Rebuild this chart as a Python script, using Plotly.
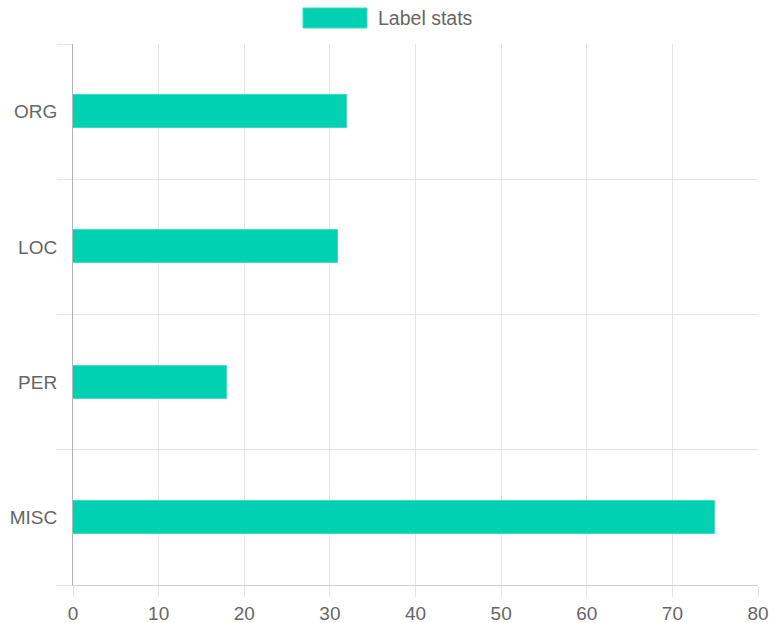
import plotly.graph_objects as go

categories = ["ORG", "LOC", "PER", "MISC"]
values = [32, 31, 18, 75]
series_name = "Label stats"
x_ticks = [0, 10, 20, 30, 40, 50, 60, 70, 80]

BAR = "#00d1b2"
TXT = "#666666"
GRID = "#e5e5e5"
FONT = "Liberation Sans, Helvetica Neue, Arial, sans-serif"

fig = go.Figure()
fig.add_trace(go.Bar(
    y=categories, x=values, orientation="h", name=series_name,
    marker=dict(color=BAR, line=dict(color="#3fdcc4", width=1)),
    width=0.245, showlegend=False,
))

fig.update_layout(
    width=769, height=623,
    margin=dict(l=73, r=11, t=44, b=38, autoexpand=False),
    paper_bgcolor="white", plot_bgcolor="white",
    font=dict(family=FONT, size=19, color=TXT),
    bargap=0,
    xaxis=dict(
        range=[0, 80], tickvals=x_ticks, showgrid=True, gridcolor=GRID, gridwidth=1,
        zeroline=False, showline=True, linecolor="#d0d0d0", linewidth=1,
        ticks="outside", ticklen=11, tickcolor=GRID, automargin=False,
        tickfont=dict(size=19, color=TXT),
    ),
    yaxis=dict(
        type="category", categoryorder="array", categoryarray=categories[::-1],
        range=[-0.5, 3.5], tickson="boundaries", showgrid=True, gridcolor=GRID,
        showline=True, linecolor="#b5b5b5", linewidth=1, automargin=False,
        ticks="outside", ticklen=15, tickcolor=GRID, ticklabelstandoff=11,
        tickfont=dict(size=19, color=TXT),
    ),
    shapes=[dict(type="rect", xref="paper", yref="paper",
                 x0=(303 - 73) / 685, x1=(367 - 73) / 685,
                 y0=(623 - 38 - 28) / 541, y1=(623 - 38 - 8) / 541,
                 fillcolor=BAR, line=dict(color="#3fdcc4", width=1))],
    annotations=[dict(text=series_name, xref="paper", yref="paper",
                      x=(376 - 73) / 685, y=(623 - 38 - 18) / 541,
                      xanchor="left", yanchor="middle", showarrow=False,
                      font=dict(size=19.5, color=TXT))],
)

fig.write_html("out.html", config={"displayModeBar": False},
               post_script="document.body.style.margin='0';document.body.style.overflow='hidden';")
